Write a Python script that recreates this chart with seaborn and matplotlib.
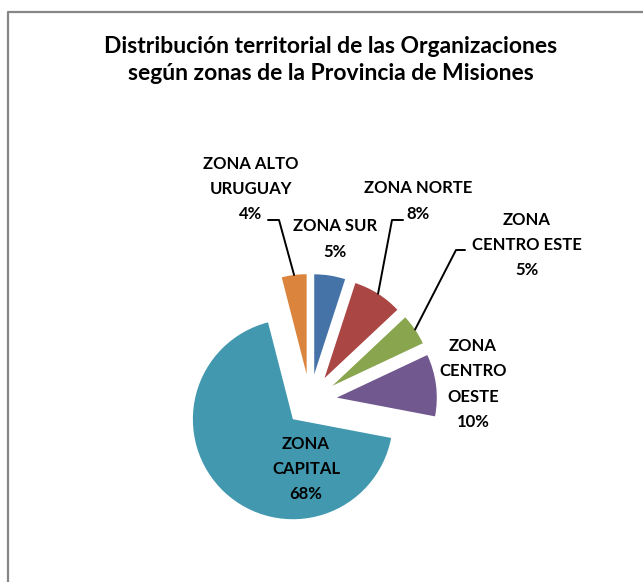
import matplotlib
matplotlib.use("Agg")
import matplotlib.pyplot as plt
import seaborn as sb
import numpy as np

# datos
zonas = ["ZONA SUR", "ZONA NORTE", "ZONA\nCENTRO ESTE", "ZONA\nCENTRO\nOESTE",
         "ZONA\nCAPITAL", "ZONA ALTO\nURUGUAY"]
porcentajes = [5, 8, 5, 10, 68, 4]
colores = ["#4572A7", "#AA4643", "#89A54E", "#71588F", "#4198AF", "#DB843D"]
titulo = "Distribución territorial de las Organizaciones\nsegún zonas de la Provincia de Misiones"

sb.set_theme(style="white")
plt.rcParams["font.family"] = ["Lato", "DejaVu Sans"]

W, H = 643, 582
fig = plt.figure(figsize=(W / 100, H / 100), dpi=100)
ax = fig.add_axes([0, 0, 1, 1])

centro = (310, H - 401)
wedges, _ = ax.pie(porcentajes, colors=sb.color_palette(colores), startangle=90,
                   counterclock=False, radius=100, center=centro,
                   explode=[27, 27, 27, 27, 25, 27], wedgeprops=dict(linewidth=0))
ax.set_xlim(0, W)
ax.set_ylim(0, H)
ax.set_aspect("equal")
ax.axis("off")

# marco del grafico (solo se ven borde izq. y sup.)
ax.plot([8, 8, W + 5], [-5, H - 12, H - 12], color="#868686", lw=1.6, clip_on=False)

ax.text(331, H - 60, titulo, ha="center", va="center", fontsize=16.5,
        fontweight="bold", linespacing=1.35, color="black")

# posiciones de las etiquetas (px desde arriba)
pos_etiquetas = [(335, 239), (418, 201), (527, 245), (473, 384), (306, 469), (251, 189)]
# codos de las lineas guia: (indice, codo, fin)
guias = [(5, (279, 220), (268, 220)), (1, (392, 220), (403, 220)),
         (2, (456, 250), (465, 250))]

for z, p, (x, y) in zip(zonas, porcentajes, pos_etiquetas):
    ax.text(x, H - y, f"{z}\n{p}%", ha="center", va="center", fontsize=12,
            fontweight="bold", linespacing=1.7, color="black")

for i, codo, fin in guias:
    w = wedges[i]
    th = np.deg2rad((w.theta1 + w.theta2) / 2)
    ax0 = w.center[0] + w.r * np.cos(th)
    ay0 = w.center[1] + w.r * np.sin(th)
    ax.plot([ax0, codo[0], fin[0]], [ay0, H - codo[1], H - fin[1]],
            color="black", lw=1.4)

fig.savefig("out.png", dpi=100)
